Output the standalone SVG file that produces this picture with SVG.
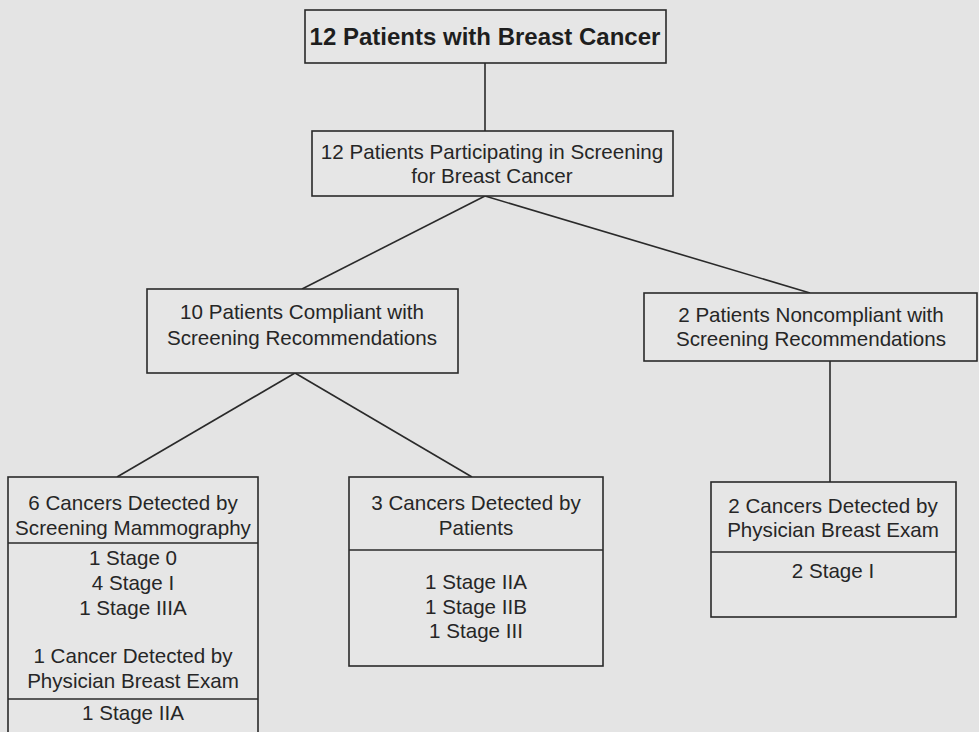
<svg xmlns="http://www.w3.org/2000/svg" width="979" height="732" viewBox="0 0 979 732">
<style>
.bg{fill:#e4e4e4}
.box{fill:#e6e6e6;stroke:#2a2a2a;stroke-width:1.6}
.div{stroke:#2a2a2a;stroke-width:1.6;fill:none}
.t{font-family:"Liberation Sans",Arial,sans-serif;font-size:20.6px;fill:#262626;text-anchor:middle}
.tb{font-family:"Liberation Sans",Arial,sans-serif;font-size:24px;font-weight:bold;fill:#1e1e1e;text-anchor:middle}
#connectors line{stroke:#2a2a2a;stroke-width:1.6}
</style>
<rect class="bg" x="0" y="0" width="979" height="732"/>
<g id="connectors">
<line x1="485" y1="63" x2="485" y2="131"/>
<line x1="485" y1="196" x2="302" y2="289"/>
<line x1="485" y1="196" x2="810" y2="293"/>
<line x1="295" y1="373" x2="117" y2="477"/>
<line x1="295" y1="373" x2="472" y2="477"/>
<line x1="830" y1="361" x2="830" y2="482"/>
</g>
<g id="n_total">
<rect class="box" x="305" y="10" width="361" height="53"/>
<text class="tb" x="485" y="45">12 Patients with Breast Cancer</text>
</g>
<g id="n_screening">
<rect class="box" x="312" y="131" width="361" height="65"/>
<text class="t" x="492" y="159">12 Patients Participating in Screening</text>
<text class="t" x="492" y="183">for Breast Cancer</text>
</g>
<g id="n_compliant">
<rect class="box" x="147" y="289" width="311" height="84"/>
<text class="t" x="302" y="319">10 Patients Compliant with</text>
<text class="t" x="302" y="345">Screening Recommendations</text>
</g>
<g id="n_noncompliant">
<rect class="box" x="644" y="293" width="333" height="68"/>
<text class="t" x="811" y="322">2 Patients Noncompliant with</text>
<text class="t" x="811" y="346">Screening Recommendations</text>
</g>
<g id="n_mammo">
<rect class="box" x="8" y="477" width="250" height="270"/>
<line class="div" x1="8" y1="543" x2="258" y2="543"/>
<line class="div" x1="8" y1="699" x2="258" y2="699"/>
<text class="t" x="133" y="510">6 Cancers Detected by</text>
<text class="t" x="133" y="535">Screening Mammography</text>
<text class="t" x="133" y="565">1 Stage 0</text>
<text class="t" x="133" y="590">4 Stage I</text>
<text class="t" x="133" y="615">1 Stage IIIA</text>
<text class="t" x="133" y="663">1 Cancer Detected by</text>
<text class="t" x="133" y="688">Physician Breast Exam</text>
<text class="t" x="133" y="720">1 Stage IIA</text>
</g>
<g id="n_patients">
<rect class="box" x="349" y="477" width="254" height="189"/>
<line class="div" x1="349" y1="550" x2="603" y2="550"/>
<text class="t" x="476" y="510">3 Cancers Detected by</text>
<text class="t" x="476" y="535">Patients</text>
<text class="t" x="476" y="589">1 Stage IIA</text>
<text class="t" x="476" y="614">1 Stage IIB</text>
<text class="t" x="476" y="638">1 Stage III</text>
</g>
<g id="n_physician">
<rect class="box" x="711" y="482" width="245" height="135"/>
<line class="div" x1="711" y1="552" x2="956" y2="552"/>
<text class="t" x="833" y="513">2 Cancers Detected by</text>
<text class="t" x="833" y="537">Physician Breast Exam</text>
<text class="t" x="833" y="578">2 Stage I</text>
</g>
</svg>
